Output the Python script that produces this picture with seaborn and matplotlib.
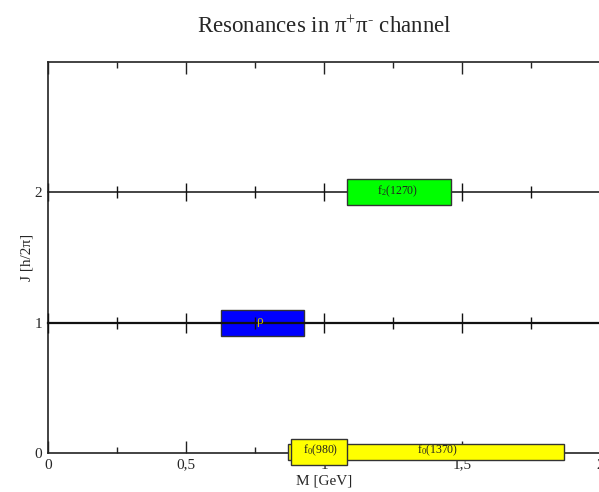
import numpy as np
import matplotlib
matplotlib.use("Agg")
import matplotlib.pyplot as plt
from matplotlib.ticker import MultipleLocator, FixedLocator, FixedFormatter
import seaborn as sns

# ---------------- data ----------------
names = ["ρ", "f$_2$(1270)", "f$_0$(1370)", "f$_0$(980)"]
spin = [1, 2, 0, 0]
m_low = [0.626, 1.082, 0.871, 0.880]
m_high = [0.928, 1.459, 1.870, 1.082]
j_low = [0.90, 1.90, -0.05, -0.09]
j_high = [1.10, 2.10, 0.07, 0.11]
label_m = [0.765, 1.266, 1.413, 0.986]
box_colors = ["#0000ff", "#00ff00", "#ffff00", "#ffff00"]
text_colors = ["#d2c000", "#222222", "#222222", "#222222"]
label_sizes = [9.5, 8.5, 8.5, 8.5]
xtick_vals = [0, 0.5, 1, 1.5, 2]
xtick_labels = ["0", "0,5", "1", "1,5", "2"]
ytick_vals = [0, 1, 2]
ytick_labels = ["0", "1", "2"]
spin_lines = [1, 2]

# ---------------- style ----------------
sns.set_style("ticks")
plt.rcParams["font.family"] = ["Liberation Serif", "DejaVu Serif"]
plt.rcParams["mathtext.fontset"] = "custom"
plt.rcParams["mathtext.rm"] = "Liberation Serif"
plt.rcParams["mathtext.it"] = "Liberation Serif:italic"
plt.rcParams["mathtext.default"] = "rm"

fig = plt.figure(figsize=(5.99, 4.92), dpi=100)
W, H = 599, 492
l, r, t, b = 48, 600, 62, 453
ax = fig.add_axes([l / W, (H - b) / H, (r - l) / W, (b - t) / H])
ax.set_xlim(0, 2)
ax.set_ylim(0, 3)

for s in ["left", "bottom", "top", "right"]:
    ax.spines[s].set_color("#222222")
    ax.spines[s].set_linewidth(1.2)
ax.spines["right"].set_visible(False)

ax.xaxis.set_major_locator(FixedLocator(xtick_vals))
ax.xaxis.set_major_formatter(FixedFormatter(xtick_labels))
ax.xaxis.set_minor_locator(MultipleLocator(0.25))
ax.yaxis.set_major_locator(FixedLocator(ytick_vals))
ax.yaxis.set_major_formatter(FixedFormatter(ytick_labels))
ax.tick_params(axis="x", which="major", direction="in", length=8.5, width=1.0,
               top=True, bottom=True, labelsize=11, pad=4, color="#222222")
ax.tick_params(axis="x", which="minor", direction="in", length=4.2, width=1.0,
               top=True, bottom=True, color="#222222")
ax.tick_params(axis="y", which="major", direction="in", length=0, labelsize=11, pad=4)

# spin lines with their own tick marks
for j, lw, z, ml in zip(spin_lines, [1.6, 1.1], [4, 1], [15, 13]):
    sec = ax.secondary_xaxis(j / 3.0)
    sec.xaxis.set_major_locator(MultipleLocator(0.5))
    sec.xaxis.set_minor_locator(MultipleLocator(0.25))
    sec.tick_params(axis="x", which="major", direction="inout", length=ml, width=1.0,
                    labelbottom=False, labeltop=False, color="#111111")
    sec.tick_params(axis="x", which="minor", direction="inout", length=8.5, width=1.0,
                    labelbottom=False, labeltop=False, color="#111111")
    for s in ["top", "bottom"]:
        sec.spines[s].set_linewidth(lw)
        sec.spines[s].set_color("#111111")
    sec.set_zorder(z)

# resonance boxes
widths = np.array(m_high) - np.array(m_low)
heights = np.array(j_high) - np.array(j_low)
for i in range(len(names)):
    ax.barh(y=j_low[i], width=widths[i], left=m_low[i], height=heights[i],
            align="edge", color=box_colors[i], edgecolor="#333333", linewidth=1.0,
            zorder=3, clip_on=False)
    yc = spin[i] + (0.02 if spin[i] == 0 else 0.01)
    ax.text(label_m[i], yc, names[i], ha="center", va="center", fontsize=label_sizes[i],
            color=text_colors[i], zorder=6, clip_on=False)

ax.set_title("Resonances in π$^{+}$π$^{‐}$ channel", fontsize=16.5, pad=21)
ax.set_xlabel("M [GeV]", fontsize=11, labelpad=2)
ax.set_ylabel("J [h/2π]", fontsize=11, labelpad=1)

fig.savefig("out.png", dpi=100)
